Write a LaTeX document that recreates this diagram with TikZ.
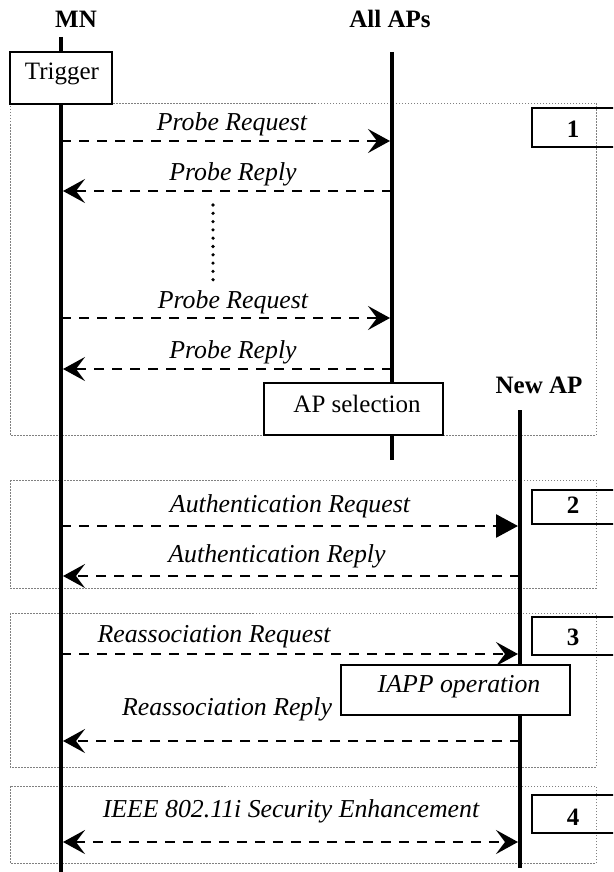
\documentclass[tikz,border=0pt]{standalone}
\usepackage{fontspec}
\setmainfont{Liberation Serif}
\usetikzlibrary{arrows.meta}
\begin{document}
\begin{tikzpicture}[x=1pt,y=-1pt,
  txt/.style={font=\fontsize{25}{30}\selectfont, inner sep=0pt, anchor=base},
  itxt/.style={txt, font=\fontsize{25.8}{30}\selectfont\itshape},
  btxt/.style={txt, font=\fontsize{25}{30}\selectfont\bfseries},
  lifeline/.style={line width=4pt},
  msg/.style={line width=2.7pt, dash pattern=on 10pt off 8pt},
  stl/.style={-{Stealth[length=22pt,width=24pt,inset=9pt]}},
  stlb/.style={{Stealth[length=22pt,width=24pt,inset=9pt]}-{Stealth[length=22pt,width=24pt,inset=9pt]}},
  tri/.style={-{Triangle[length=22pt,width=23pt]}},
  groupbox/.style={draw=gray, line width=0.9pt, dash pattern=on 1.5pt off 1.5pt},
  solidbox/.style={draw=black, line width=2pt, fill=white},
  tagbox/.style={draw=black, line width=2pt}]
\clip (0,0) rectangle (613,872);
% group boxes
\draw[groupbox] (10,103) rectangle (596,435);
\draw[groupbox] (10,480) rectangle (596,588);
\draw[groupbox] (10,613) rectangle (596,767);
\draw[groupbox] (10,786) rectangle (596,863);
% lifelines
\coordinate (mnT) at (61,37);  \coordinate (mnB) at (61,875);
\coordinate (apT) at (392,52); \coordinate (apB) at (392,460);
\coordinate (nwT) at (520,410); \coordinate (nwB) at (520,868);
\draw[lifeline] (mnT) -- (mnB);
\draw[lifeline] (apT) -- (apB);
\draw[lifeline] (nwT) -- (nwB);
% headers
\node[btxt] (mnl) at (76,28) {MN};
\node[btxt] (apl) at (390,28) {All APs};
\node[btxt] (nwl) at (539,393) {New AP};
% message end points
\coordinate (m1) at (61,141);  \coordinate (a1) at (392,141);
\coordinate (m2) at (61,191);  \coordinate (a2) at (392,191);
\coordinate (m3) at (61,318);  \coordinate (a3) at (392,318);
\coordinate (m4) at (61,369);  \coordinate (a4) at (392,369);
\coordinate (m5) at (61,526);  \coordinate (n5) at (520,526);
\coordinate (m6) at (61,576);  \coordinate (n6) at (520,576);
\coordinate (m7) at (61,654);  \coordinate (n7) at (520,654);
\coordinate (m8) at (61,741);  \coordinate (n8) at (520,741);
\coordinate (m9) at (61,842);  \coordinate (n9) at (520,842);
\draw[msg,stl,shorten >=2pt] (m1) -- (a1);
\draw[msg,stl,shorten >=2pt] (a2) -- (m2);
\draw[msg,stl,shorten >=2pt] (m3) -- (a3);
\draw[msg,stl,shorten >=2pt] (a4) -- (m4);
\draw[msg,tri,shorten >=2pt] (m5) -- (n5);
\draw[msg,stl,shorten >=2pt] (n6) -- (m6);
\draw[msg,stl,shorten >=2pt] (m7) -- (n7);
\draw[msg,stl,shorten >=2pt] (n8) -- (m8);
\draw[msg,stlb,shorten >=2pt,shorten <=2pt] (m9) -- (n9);
% dotted continuation
\coordinate (d1) at (213,205); \coordinate (d2) at (213,280);
\draw[line width=3.6pt, line cap=round, dash pattern=on 0pt off 8.3pt] (d1) -- (d2);
% message labels
\node[itxt] (l1) at (232,131) {Probe Request};
\node[itxt] (l2) at (233,180) {Probe Reply};
\node[itxt] (l3) at (233,308) {Probe Request};
\node[itxt] (l4) at (233,358) {Probe Reply};
\node[itxt] (l5) at (290,512) {Authentication Request};
\node[itxt] (l6) at (277,562) {Authentication Reply};
\node[itxt] (l7) at (214,642) {Reassociation Request};
\node[itxt] (l8) at (227,715) {Reassociation Reply};
\node[itxt] (l9) at (291,817) {IEEE 802.11i Security Enhancement};
% boxes
\draw[solidbox] (10,52) rectangle (112,104);
\node[txt] (trig) at (62,80) {Trigger};
\draw[solidbox] (264,383) rectangle (443,435);
\node[txt] (sel) at (357,412) {AP selection};
\draw[solidbox] (341,665) rectangle (570,715);
\node[itxt] (iapp) at (459,692) {IAPP operation};
% tag boxes
\draw[tagbox] (532,108) rectangle (625,147);
\node[btxt] (t1) at (573,137) {1};
\draw[tagbox] (532,490) rectangle (625,524);
\node[btxt] (t2) at (573,513) {2};
\draw[tagbox] (532,617) rectangle (625,655);
\node[btxt] (t3) at (573,645) {3};
\draw[tagbox] (532,795) rectangle (625,833);
\node[btxt] (t4) at (573,825) {4};
\end{tikzpicture}
\end{document}
